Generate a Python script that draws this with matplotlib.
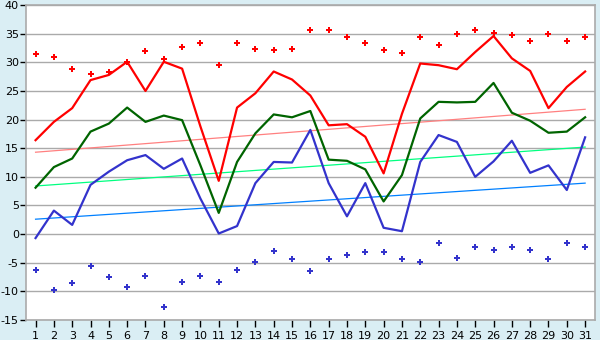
import numpy as np
import matplotlib
matplotlib.use("Agg")
import matplotlib.pyplot as plt

plt.rcParams["axes.unicode_minus"] = False

days = list(range(1, 32))

# daily values
t_max_line = [16.4, 19.6, 22.0, 26.9, 27.8, 30.1, 25.0, 30.1, 28.9, 18.8,
              9.3, 22.1, 24.6, 28.4, 27.0, 24.2, 19.0, 19.2, 17.0, 10.6,
              21.0, 29.8, 29.5, 28.8, 31.8, 34.6, 30.7, 28.5, 22.0, 25.7, 28.4]
t_mean_line = [8.1, 11.7, 13.2, 17.9, 19.3, 22.1, 19.6, 20.7, 19.9, 12.0,
               3.7, 12.6, 17.6, 20.9, 20.4, 21.5, 13.0, 12.8, 11.3, 5.7,
               10.3, 20.2, 23.1, 23.0, 23.1, 26.4, 21.2, 19.8, 17.7, 17.9, 20.4]
t_min_line = [-0.7, 4.1, 1.6, 8.6, 10.9, 12.9, 13.8, 11.4, 13.2, 6.2,
              0.1, 1.4, 8.9, 12.6, 12.5, 18.2, 8.9, 3.1, 8.9, 1.1,
              0.5, 12.6, 17.3, 16.1, 10.0, 12.7, 16.3, 10.7, 12.0, 7.7, 16.9]
abs_max = [31.4, 30.9, 28.8, 27.9, 28.3, 30.0, 31.9, 30.5, 32.6, 33.3,
           29.6, 33.4, 32.3, 32.1, 32.3, 35.6, 35.6, 34.4, 33.3, 32.1,
           31.6, 34.4, 33.1, 35.0, 35.6, 35.2, 34.7, 33.7, 35.0, 33.7, 34.5]
abs_min = [-6.3, -9.8, -8.6, -5.6, -7.5, -9.3, -7.4, -12.8, -8.4, -7.4,
           -8.3, -6.2, -4.9, -3.0, -4.4, -6.5, -4.4, -3.7, -3.2, -3.2,
           -4.4, -4.8, -1.5, -4.2, -2.3, -2.8, -2.3, -2.8, -4.4, -1.5, -2.3]

# normal (trend) lines: value on day 1 and day 31
trend_days = [1, 31]
norm_max = [14.3, 21.8]
norm_mean = [8.4, 15.2]
norm_min = [2.6, 8.9]

bg = "#daeef4"
grid_c = "#aaaaaa"

fig = plt.figure(figsize=(6, 3.4), dpi=100, facecolor=bg)
ax = fig.add_axes([0.044, 0.059, 0.948, 0.926])
ax.set_facecolor("white")

ax.plot(trend_days, norm_max, color="#ff8080", lw=0.9, zorder=2)
ax.plot(trend_days, norm_mean, color="#00ff80", lw=0.9, zorder=2)
ax.plot(trend_days, norm_min, color="#0080ff", lw=0.9, zorder=2)

ax.plot(days, t_max_line, color="#ff0000", lw=1.6, zorder=3)
ax.plot(days, t_mean_line, color="#006400", lw=1.6, zorder=3)
ax.plot(days, t_min_line, color="#3333cc", lw=1.6, zorder=3)

ax.plot(days, abs_max, ls="none", marker="P", ms=4.2, color="#ff0000", mew=0, zorder=4)
ax.plot(days, abs_min, ls="none", marker="P", ms=4.2, color="#3333cc", mew=0, zorder=4)

ax.set_xlim(0.5, 31.55)
ax.set_ylim(-15, 40)
ax.set_xticks(days)
ax.set_xticklabels([str(d) for d in days])
ax.set_yticks(range(-15, 41, 5))
ax.yaxis.grid(True, color=grid_c, lw=1)
ax.set_axisbelow(True)

for s in ax.spines.values():
    s.set_color(grid_c)
    s.set_linewidth(1.2)

ax.tick_params(axis="both", labelsize=8, colors="black", length=4, width=1, pad=1.5)
ax.tick_params(axis="x", length=5, pad=3)

fig.savefig("out.png", dpi=100, facecolor=bg)
